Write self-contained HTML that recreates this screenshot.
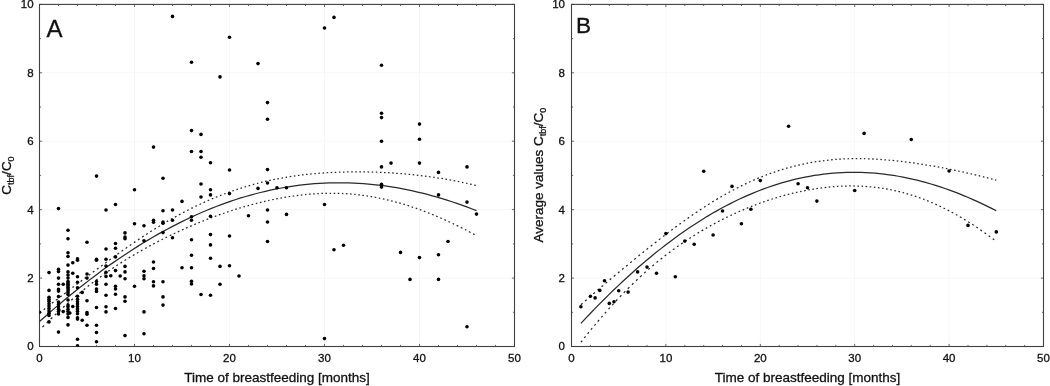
<!DOCTYPE html>
<html><head><meta charset="utf-8"><title>chart</title>
<style>
html,body{margin:0;padding:0;background:#fff;}
body{width:1050px;height:386px;overflow:hidden;}
svg{display:block;will-change:transform;}
text{font-family:"Liberation Sans",sans-serif;fill:#111;stroke:#111;stroke-width:0.3px;}
.tk{font-size:11.5px;}
.tt{font-size:13.5px;}
.sb{font-size:9px;}
</style></head><body>
<svg width="1050" height="386" viewBox="0 0 1050 386">
<rect width="1050" height="386" fill="#fff"/>
<path d="M134.5,4.4 V346.5 M229.5,4.4 V346.5 M324.5,4.4 V346.5 M419.5,4.4 V346.5 M39.5,278.1 H514.5 M39.5,209.7 H514.5 M39.5,141.2 H514.5 M39.5,72.8 H514.5" stroke="#f7f7f7" stroke-width="1" fill="none"/>
<path d="M39.5,346.5 v-2.6 M39.5,4.4 v2.6 M58.5,346.5 v-1.6 M58.5,4.4 v1.6 M77.5,346.5 v-1.6 M77.5,4.4 v1.6 M96.5,346.5 v-1.6 M96.5,4.4 v1.6 M115.5,346.5 v-1.6 M115.5,4.4 v1.6 M134.5,346.5 v-2.6 M134.5,4.4 v2.6 M153.5,346.5 v-1.6 M153.5,4.4 v1.6 M172.5,346.5 v-1.6 M172.5,4.4 v1.6 M191.5,346.5 v-1.6 M191.5,4.4 v1.6 M210.5,346.5 v-1.6 M210.5,4.4 v1.6 M229.5,346.5 v-2.6 M229.5,4.4 v2.6 M248.5,346.5 v-1.6 M248.5,4.4 v1.6 M267.5,346.5 v-1.6 M267.5,4.4 v1.6 M286.5,346.5 v-1.6 M286.5,4.4 v1.6 M305.5,346.5 v-1.6 M305.5,4.4 v1.6 M324.5,346.5 v-2.6 M324.5,4.4 v2.6 M343.5,346.5 v-1.6 M343.5,4.4 v1.6 M362.5,346.5 v-1.6 M362.5,4.4 v1.6 M381.5,346.5 v-1.6 M381.5,4.4 v1.6 M400.5,346.5 v-1.6 M400.5,4.4 v1.6 M419.5,346.5 v-2.6 M419.5,4.4 v2.6 M438.5,346.5 v-1.6 M438.5,4.4 v1.6 M457.5,346.5 v-1.6 M457.5,4.4 v1.6 M476.5,346.5 v-1.6 M476.5,4.4 v1.6 M495.5,346.5 v-1.6 M495.5,4.4 v1.6 M514.5,346.5 v-2.6 M514.5,4.4 v2.6 M39.5,346.5 h2.6 M514.5,346.5 h-2.6 M39.5,312.3 h1.6 M514.5,312.3 h-1.6 M39.5,278.1 h2.6 M514.5,278.1 h-2.6 M39.5,243.9 h1.6 M514.5,243.9 h-1.6 M39.5,209.7 h2.6 M514.5,209.7 h-2.6 M39.5,175.4 h1.6 M514.5,175.4 h-1.6 M39.5,141.2 h2.6 M514.5,141.2 h-2.6 M39.5,107.0 h1.6 M514.5,107.0 h-1.6 M39.5,72.8 h2.6 M514.5,72.8 h-2.6 M39.5,38.6 h1.6 M514.5,38.6 h-1.6 M39.5,4.4 h2.6 M514.5,4.4 h-2.6" stroke="#6a6a6a" stroke-width="1" fill="none"/>
<rect x="39.5" y="4.4" width="475.0" height="342.1" fill="none" stroke="#404040" stroke-width="1.1"/>
<text class="tk" x="39.5" y="362.4" text-anchor="middle">0</text>
<text class="tk" x="134.5" y="362.4" text-anchor="middle">10</text>
<text class="tk" x="229.5" y="362.4" text-anchor="middle">20</text>
<text class="tk" x="324.5" y="362.4" text-anchor="middle">30</text>
<text class="tk" x="419.5" y="362.4" text-anchor="middle">40</text>
<text class="tk" x="514.5" y="362.4" text-anchor="middle">50</text>
<text class="tk" x="33.6" y="350.3" text-anchor="end">0</text>
<text class="tk" x="33.6" y="281.9" text-anchor="end">2</text>
<text class="tk" x="33.6" y="213.5" text-anchor="end">4</text>
<text class="tk" x="33.6" y="145.0" text-anchor="end">6</text>
<text class="tk" x="33.6" y="76.6" text-anchor="end">8</text>
<text class="tk" x="33.6" y="8.2" text-anchor="end">10</text>
<text class="tt" x="277.0" y="382.3" text-anchor="middle">Time of breastfeeding [months]</text>
<text x="46.5" y="37.3" font-size="24">A</text>
<text class="tt" transform="translate(11.1,175.5) rotate(-90)" text-anchor="middle">C<tspan class="sb" dy="3">tbf</tspan><tspan dy="-3">/C</tspan><tspan class="sb" dy="3">0</tspan></text>
<path d="M665.9,4.4 V346.5 M760.3,4.4 V346.5 M854.7,4.4 V346.5 M949.1,4.4 V346.5 M571.5,278.1 H1043.5 M571.5,209.7 H1043.5 M571.5,141.2 H1043.5 M571.5,72.8 H1043.5" stroke="#f7f7f7" stroke-width="1" fill="none"/>
<path d="M571.5,346.5 v-2.6 M571.5,4.4 v2.6 M590.4,346.5 v-1.6 M590.4,4.4 v1.6 M609.3,346.5 v-1.6 M609.3,4.4 v1.6 M628.1,346.5 v-1.6 M628.1,4.4 v1.6 M647.0,346.5 v-1.6 M647.0,4.4 v1.6 M665.9,346.5 v-2.6 M665.9,4.4 v2.6 M684.8,346.5 v-1.6 M684.8,4.4 v1.6 M703.7,346.5 v-1.6 M703.7,4.4 v1.6 M722.5,346.5 v-1.6 M722.5,4.4 v1.6 M741.4,346.5 v-1.6 M741.4,4.4 v1.6 M760.3,346.5 v-2.6 M760.3,4.4 v2.6 M779.2,346.5 v-1.6 M779.2,4.4 v1.6 M798.1,346.5 v-1.6 M798.1,4.4 v1.6 M816.9,346.5 v-1.6 M816.9,4.4 v1.6 M835.8,346.5 v-1.6 M835.8,4.4 v1.6 M854.7,346.5 v-2.6 M854.7,4.4 v2.6 M873.6,346.5 v-1.6 M873.6,4.4 v1.6 M892.5,346.5 v-1.6 M892.5,4.4 v1.6 M911.3,346.5 v-1.6 M911.3,4.4 v1.6 M930.2,346.5 v-1.6 M930.2,4.4 v1.6 M949.1,346.5 v-2.6 M949.1,4.4 v2.6 M968.0,346.5 v-1.6 M968.0,4.4 v1.6 M986.9,346.5 v-1.6 M986.9,4.4 v1.6 M1005.7,346.5 v-1.6 M1005.7,4.4 v1.6 M1024.6,346.5 v-1.6 M1024.6,4.4 v1.6 M1043.5,346.5 v-2.6 M1043.5,4.4 v2.6 M571.5,346.5 h2.6 M1043.5,346.5 h-2.6 M571.5,312.3 h1.6 M1043.5,312.3 h-1.6 M571.5,278.1 h2.6 M1043.5,278.1 h-2.6 M571.5,243.9 h1.6 M1043.5,243.9 h-1.6 M571.5,209.7 h2.6 M1043.5,209.7 h-2.6 M571.5,175.4 h1.6 M1043.5,175.4 h-1.6 M571.5,141.2 h2.6 M1043.5,141.2 h-2.6 M571.5,107.0 h1.6 M1043.5,107.0 h-1.6 M571.5,72.8 h2.6 M1043.5,72.8 h-2.6 M571.5,38.6 h1.6 M1043.5,38.6 h-1.6 M571.5,4.4 h2.6 M1043.5,4.4 h-2.6" stroke="#6a6a6a" stroke-width="1" fill="none"/>
<rect x="571.5" y="4.4" width="472.0" height="342.1" fill="none" stroke="#404040" stroke-width="1.1"/>
<text class="tk" x="571.5" y="362.4" text-anchor="middle">0</text>
<text class="tk" x="665.9" y="362.4" text-anchor="middle">10</text>
<text class="tk" x="760.3" y="362.4" text-anchor="middle">20</text>
<text class="tk" x="854.7" y="362.4" text-anchor="middle">30</text>
<text class="tk" x="949.1" y="362.4" text-anchor="middle">40</text>
<text class="tk" x="1043.5" y="362.4" text-anchor="middle">50</text>
<text class="tk" x="565" y="350.3" text-anchor="end">0</text>
<text class="tk" x="565" y="281.9" text-anchor="end">2</text>
<text class="tk" x="565" y="213.5" text-anchor="end">4</text>
<text class="tk" x="565" y="145.0" text-anchor="end">6</text>
<text class="tk" x="565" y="76.6" text-anchor="end">8</text>
<text class="tk" x="565" y="8.2" text-anchor="end">10</text>
<text class="tt" x="807.5" y="382.3" text-anchor="middle">Time of breastfeeding [months]</text>
<text x="576.1" y="33.4" font-size="22.6">B</text>
<text class="tt" transform="translate(542.5,175.2) rotate(-90)" text-anchor="middle">Average values C<tspan class="sb" dy="3">tbf</tspan><tspan dy="-3">/C</tspan><tspan class="sb" dy="3">0</tspan></text>
<path d="M39.50,313.08L41.10,311.81 M43.73,309.73L45.18,308.58 M47.81,306.51L49.26,305.37 M51.89,303.33L53.49,302.08 M55.97,300.17L57.57,298.93 M60.05,297.03L61.65,295.80 M64.13,293.91L65.73,292.69 M68.21,290.80L69.81,289.59 M72.43,287.60L73.89,286.51 M76.51,284.53L77.97,283.43 M80.59,281.46L82.19,280.26 M84.67,278.40L86.27,277.20 M88.75,275.35L90.35,274.16 M92.83,272.31L94.43,271.12 M96.91,269.28L98.51,268.09 M101.14,266.14L102.59,265.07 M105.22,263.13L106.67,262.06 M109.30,260.14L110.75,259.07 M113.38,257.16L114.98,256.00 M117.46,254.21L119.06,253.06 M121.54,251.29L123.14,250.15 M125.62,248.40L127.22,247.28 M129.84,245.45L131.30,244.44 M133.92,242.64L135.38,241.64 M138.00,239.86L139.46,238.89 M142.08,237.14L143.69,236.08 M146.16,234.46L147.77,233.42 M150.24,231.83L151.85,230.81 M154.32,229.25L155.93,228.26 M158.40,226.73L160.01,225.75 M162.63,224.17L164.09,223.30 M166.71,221.76L168.17,220.91 M170.79,219.40L172.39,218.49 M174.87,217.10L176.47,216.21 M178.95,214.85L180.55,213.99 M183.03,212.67L184.63,211.83 M187.11,210.54L188.71,209.72 M191.34,208.40L192.79,207.68 M195.42,206.40L196.87,205.70 M199.50,204.45L201.10,203.71 M203.58,202.57L205.18,201.85 M207.66,200.75L209.26,200.05 M211.74,198.98L213.34,198.31 M215.82,197.28L217.42,196.63 M220.04,195.58L221.50,195.01 M224.12,194.01L225.58,193.46 M228.20,192.49L229.66,191.96 M232.28,191.03L233.88,190.47 M236.36,189.63L237.96,189.10 M240.44,188.30L242.04,187.79 M244.52,187.02L246.12,186.53 M248.60,185.80L250.20,185.34 M252.83,184.60L254.28,184.20 M256.91,183.50L258.36,183.12 M260.99,182.45L262.59,182.06 M265.07,181.47L266.67,181.10 M269.15,180.54L270.75,180.19 M273.23,179.66L274.83,179.33 M277.31,178.84L278.91,178.53 M281.53,178.05L282.99,177.78 M285.61,177.33L287.07,177.09 M289.69,176.67L291.30,176.42 M293.77,176.05L295.38,175.82 M297.85,175.49L299.46,175.28 M301.93,174.97L303.54,174.78 M306.01,174.49L307.62,174.32 M310.24,174.05L311.70,173.91 M314.32,173.67L315.78,173.54 M318.40,173.32L319.86,173.21 M322.48,173.02L324.08,172.91 M326.56,172.75L328.16,172.66 M330.64,172.53L332.24,172.45 M334.72,172.33L336.32,172.27 M338.94,172.17L340.40,172.12 M343.02,172.05L344.48,172.01 M347.10,171.96L348.56,171.93 M351.18,171.90L352.79,171.89 M355.26,171.87L356.87,171.87 M359.34,171.88L360.95,171.89 M363.42,171.91L365.03,171.93 M367.51,171.97L369.11,172.01 M371.73,172.07L373.19,172.11 M375.81,172.19L377.27,172.24 M379.89,172.35L381.49,172.41 M383.97,172.53L385.57,172.61 M388.05,172.74L389.65,172.83 M392.13,172.99L393.73,173.09 M396.21,173.26L397.81,173.37 M400.44,173.57L401.89,173.69 M404.52,173.91L405.97,174.04 M408.60,174.28L410.20,174.44 M412.68,174.68L414.28,174.85 M416.76,175.12L418.36,175.30 M420.84,175.59L422.44,175.78 M424.92,176.09L426.52,176.30 M429.14,176.65L430.60,176.85 M433.22,177.22L434.68,177.44 M437.30,177.83L438.76,178.06 M441.38,178.48L442.99,178.74 M445.46,179.16L447.07,179.44 M449.54,179.88L451.15,180.18 M453.62,180.64L455.23,180.95 M457.70,181.44L459.31,181.76 M461.93,182.31L463.39,182.62 M466.01,183.18L467.47,183.51 M470.09,184.10L471.69,184.47 M474.17,185.06L475.77,185.45" fill="none" stroke="#2a2a2a" stroke-width="1.25"/>
<path d="M42.50,327.05L44.09,325.48 M46.70,322.93L48.29,321.39 M50.75,319.02L52.34,317.49 M54.80,315.16L56.39,313.67 M59.00,311.24L60.59,309.77 M63.05,307.52L64.64,306.08 M67.10,303.87L68.69,302.45 M71.30,300.16L72.89,298.78 M75.35,296.66L76.94,295.31 M79.40,293.24L80.99,291.92 M83.60,289.79L85.19,288.50 M87.65,286.53L89.24,285.28 M91.70,283.36L93.29,282.14 M95.90,280.17L97.49,278.98 M99.95,277.17L101.54,276.01 M104.00,274.25L105.60,273.12 M108.20,271.31L109.79,270.21 M112.25,268.54L113.84,267.48 M116.30,265.85L117.90,264.81 M120.50,263.13L122.09,262.12 M124.55,260.57L126.15,259.59 M128.61,258.08L130.20,257.11 M132.80,255.55L134.39,254.61 M136.85,253.17L138.45,252.25 M140.91,250.84L142.50,249.94 M145.10,248.48L146.69,247.61 M149.15,246.26L150.75,245.40 M153.21,244.08L154.80,243.24 M157.40,241.88L159.00,241.06 M161.46,239.80L163.05,238.99 M165.51,237.76L167.10,236.97 M169.70,235.70L171.30,234.93 M173.76,233.75L175.35,233.00 M177.81,231.85L179.40,231.11 M182.01,229.93L183.60,229.21 M186.06,228.11L187.65,227.41 M190.11,226.34L191.70,225.65 M194.31,224.55L195.90,223.88 M198.36,222.86L199.95,222.21 M202.41,221.22L204.00,220.58 M206.61,219.56L208.20,218.94 M210.66,218.00L212.25,217.40 M214.71,216.49L216.30,215.90 M218.91,214.96L220.50,214.39 M222.96,213.53L224.55,212.98 M227.01,212.15L228.60,211.62 M231.21,210.76L232.66,210.29 M235.26,209.46L236.85,208.97 M239.31,208.21L240.90,207.73 M243.51,206.96L244.96,206.54 M247.56,205.80L249.15,205.36 M251.61,204.69L253.20,204.26 M255.81,203.58L257.26,203.21 M259.86,202.56L261.45,202.17 M263.91,201.59L265.51,201.22 M268.11,200.63L269.56,200.31 M272.16,199.76L273.75,199.43 M276.21,198.93L277.81,198.62 M280.41,198.14L281.86,197.87 M284.46,197.42L286.06,197.15 M288.52,196.75L290.11,196.50 M292.71,196.12L294.16,195.91 M296.76,195.56L298.36,195.36 M300.82,195.07L302.41,194.89 M305.01,194.61L306.46,194.47 M309.06,194.23L310.66,194.10 M313.12,193.91L314.71,193.81 M317.31,193.65L318.76,193.57 M321.37,193.46L322.96,193.40 M325.42,193.33L327.01,193.30 M329.61,193.27L331.06,193.26 M333.67,193.27L335.26,193.29 M337.72,193.34L339.31,193.39 M341.92,193.49L343.36,193.56 M345.97,193.70L347.56,193.80 M350.02,193.98L351.61,194.11 M354.22,194.35L355.66,194.49 M358.27,194.77L359.86,194.96 M362.32,195.27L363.91,195.48 M366.52,195.85L367.96,196.07 M370.57,196.49L372.16,196.76 M374.62,197.20L376.21,197.49 M378.82,198.00L380.26,198.30 M382.87,198.85L384.46,199.20 M386.92,199.77L388.51,200.15 M391.12,200.79L392.57,201.16 M395.17,201.84L396.76,202.28 M399.22,202.96L400.81,203.42 M403.42,204.19L404.87,204.63 M407.47,205.44L409.06,205.95 M411.52,206.76L413.11,207.29 M415.72,208.19L417.17,208.70 M419.77,209.63L421.36,210.21 M423.82,211.13L425.42,211.74 M428.02,212.75L429.47,213.32 M432.07,214.37L433.66,215.02 M436.12,216.05L437.72,216.73 M440.32,217.85L441.77,218.48 M444.37,219.64L445.97,220.36 M448.43,221.48L450.02,222.22 M452.62,223.45L454.07,224.14 M456.67,225.40L458.27,226.18 M460.73,227.40L462.32,228.20 M464.92,229.53L466.37,230.27 M468.97,231.63L470.57,232.47 M473.03,233.77L474.62,234.63" fill="none" stroke="#2a2a2a" stroke-width="1.25"/>
<path d="M39.5,321.55 L44.4,317.18 L49.3,312.86 L54.2,308.61 L59.1,304.41 L64.1,300.29 L69.0,296.22 L73.9,292.23 L78.8,288.29 L83.7,284.43 L88.6,280.62 L93.5,276.89 L98.4,273.22 L103.3,269.62 L108.2,266.09 L113.2,262.63 L118.1,259.24 L123.0,255.92 L127.9,252.67 L132.8,249.48 L137.7,246.37 L142.6,243.33 L147.5,240.37 L152.4,237.47 L157.3,234.65 L162.3,231.89 L167.2,229.22 L172.1,226.61 L177.0,224.08 L181.9,221.62 L186.8,219.24 L191.7,216.93 L196.6,214.70 L201.5,212.54 L206.4,210.45 L211.4,208.44 L216.3,206.51 L221.2,204.65 L226.1,202.86 L231.0,201.16 L235.9,199.52 L240.8,197.97 L245.7,196.49 L250.6,195.08 L255.5,193.75 L260.5,192.50 L265.4,191.32 L270.3,190.22 L275.2,189.20 L280.1,188.25 L285.0,187.38 L289.9,186.58 L294.8,185.86 L299.7,185.22 L304.6,184.65 L309.6,184.16 L314.5,183.74 L319.4,183.40 L324.3,183.13 L329.2,182.94 L334.1,182.82 L339.0,182.78 L343.9,182.81 L348.8,182.91 L353.7,183.09 L358.7,183.35 L363.6,183.67 L368.5,184.07 L373.4,184.55 L378.3,185.09 L383.2,185.71 L388.1,186.40 L393.0,187.16 L397.9,187.99 L402.8,188.90 L407.8,189.87 L412.7,190.91 L417.6,192.03 L422.5,193.21 L427.4,194.46 L432.3,195.78 L437.2,197.17 L442.1,198.62 L447.0,200.14 L451.9,201.73 L456.9,203.38 L461.8,205.10 L466.7,206.88 L471.6,208.73 L476.5,210.64" fill="none" stroke="#2a2a2a" stroke-width="1.25"/>
<path d="M580.94,304.71L582.60,303.24 M585.09,301.04L586.62,299.71 M589.25,297.40L590.77,296.07 M593.27,293.90L594.93,292.46 M597.42,290.31L598.94,289.00 M601.58,286.74L603.10,285.44 M605.59,283.32L607.12,282.02 M609.75,279.79L611.27,278.51 M613.76,276.41L615.43,275.02 M617.92,272.93L619.44,271.66 M622.07,269.48L623.60,268.21 M626.09,266.15L627.61,264.90 M630.25,262.74L631.77,261.49 M634.26,259.46L635.92,258.11 M638.42,256.09L639.94,254.85 M642.57,252.73L644.10,251.51 M646.59,249.52L648.11,248.30 M650.74,246.22L652.27,245.01 M654.76,243.05L656.42,241.75 M658.92,239.80L660.44,238.62 M663.07,236.59L664.59,235.42 M667.09,233.51L668.61,232.35 M671.24,230.37L672.77,229.23 M675.26,227.37L676.92,226.14 M679.41,224.31L680.94,223.20 M683.57,221.30L685.09,220.21 M687.58,218.44L689.11,217.37 M691.74,215.53L693.26,214.48 M695.76,212.78L697.42,211.66 M699.91,209.99L701.43,208.98 M704.07,207.26L705.59,206.28 M708.08,204.69L709.61,203.73 M712.24,202.09L713.76,201.15 M716.25,199.64L717.92,198.65 M720.41,197.18L721.93,196.30 M724.56,194.79L726.09,193.93 M728.58,192.55L730.10,191.72 M732.74,190.31L734.26,189.50 M736.75,188.21L738.41,187.36 M740.91,186.11L742.43,185.36 M745.06,184.09L746.59,183.37 M749.08,182.22L750.60,181.52 M753.23,180.35L754.76,179.69 M757.25,178.62L758.91,177.93 M761.40,176.92L762.93,176.31 M765.56,175.28L767.08,174.71 M769.58,173.78L771.24,173.18 M773.73,172.31L775.25,171.79 M777.75,170.96L779.41,170.42 M781.90,169.64L783.43,169.18 M786.06,168.40L787.58,167.96 M790.07,167.27L791.74,166.83 M794.23,166.19L795.75,165.81 M798.25,165.21L799.91,164.83 M802.40,164.28L803.92,163.95 M806.56,163.42L808.08,163.12 M810.57,162.66L812.23,162.36 M814.73,161.95L816.25,161.70 M818.74,161.33L820.41,161.09 M822.90,160.76L824.42,160.57 M827.05,160.26L828.58,160.10 M831.07,159.85L832.73,159.69 M835.23,159.49L836.75,159.37 M839.24,159.20L840.90,159.10 M843.40,158.97L844.92,158.90 M847.55,158.80L849.08,158.75 M851.57,158.70L853.23,158.67 M855.72,158.65L857.25,158.64 M859.88,158.66L861.40,158.67 M863.89,158.72L865.42,158.75 M868.05,158.83L869.57,158.89 M872.07,158.99L873.73,159.07 M876.22,159.21L877.74,159.30 M880.38,159.47L881.90,159.58 M884.39,159.77L885.92,159.89 M888.55,160.12L890.07,160.25 M892.56,160.49L894.23,160.66 M896.72,160.92L898.24,161.09 M900.87,161.39L902.40,161.57 M904.89,161.87L906.41,162.06 M909.05,162.40L910.57,162.61 M913.06,162.95L914.72,163.19 M917.22,163.55L918.74,163.78 M921.37,164.18L922.90,164.42 M925.39,164.82L926.91,165.07 M929.54,165.50L931.07,165.76 M933.56,166.20L935.22,166.49 M937.71,166.94L939.24,167.22 M941.87,167.71L943.39,168.00 M945.89,168.48L947.41,168.78 M950.04,169.30L951.56,169.61 M954.06,170.12L955.72,170.47 M958.21,171.00L959.74,171.32 M962.37,171.90L963.89,172.23 M966.38,172.79L967.91,173.13 M970.54,173.74L972.06,174.09 M974.56,174.68L976.22,175.07 M978.71,175.68L980.23,176.05 M982.87,176.70L984.39,177.08 M986.88,177.71L988.41,178.10 M991.04,178.78L992.56,179.17 M995.05,179.83L996.30,180.16" fill="none" stroke="#2a2a2a" stroke-width="1.25"/>
<path d="M580.94,342.10L582.19,340.52 M584.26,337.91L585.51,336.36 M587.59,333.79L588.83,332.25 M590.91,329.72L592.16,328.21 M594.37,325.54L595.62,324.05 M597.70,321.59L599.08,319.97 M601.30,317.39L602.55,315.95 M604.90,313.26L606.15,311.84 M608.50,309.20L609.89,307.66 M612.24,305.06L613.63,303.55 M615.98,301.01L617.37,299.53 M619.86,296.89L621.38,295.30 M623.74,292.87L625.26,291.31 M627.75,288.80L629.41,287.14 M631.91,284.69L633.43,283.21 M636.06,280.69L637.59,279.25 M640.08,276.92L641.74,275.40 M644.23,273.13L645.76,271.77 M648.25,269.57L649.91,268.13 M652.41,265.99L653.93,264.70 M656.56,262.51L658.08,261.27 M660.58,259.25L662.24,257.93 M664.73,255.97L666.26,254.80 M668.89,252.79L670.41,251.65 M672.90,249.81L674.43,248.70 M677.06,246.82L678.58,245.74 M681.08,244.01L682.74,242.87 M685.23,241.19L686.75,240.17 M689.39,238.45L690.91,237.47 M693.40,235.89L694.93,234.93 M697.56,233.31L699.08,232.38 M701.57,230.89L703.24,229.91 M705.73,228.47L707.25,227.60 M709.88,226.12L711.41,225.27 M713.90,223.91L715.42,223.09 M718.05,221.70L719.58,220.91 M722.07,219.63L723.73,218.80 M726.23,217.56L727.75,216.82 M730.38,215.55L731.90,214.83 M734.40,213.68L735.92,212.98 M738.55,211.80L740.08,211.13 M742.57,210.05L744.23,209.35 M746.72,208.31L748.25,207.68 M750.88,206.62L752.40,206.02 M754.90,205.06L756.42,204.48 M759.05,203.51L760.57,202.95 M763.07,202.06L764.73,201.48 M767.22,200.63L768.75,200.13 M771.38,199.27L772.90,198.78 M775.39,198.01L776.92,197.55 M779.55,196.77L781.07,196.33 M783.56,195.63L785.23,195.18 M787.72,194.52L789.24,194.13 M791.87,193.47L793.40,193.11 M795.89,192.52L797.41,192.18 M800.05,191.61L801.57,191.29 M804.06,190.78L805.72,190.46 M808.22,189.99L809.74,189.72 M812.37,189.27L813.90,189.03 M816.39,188.64L817.91,188.42 M820.54,188.06L822.07,187.86 M824.56,187.56L826.22,187.37 M828.72,187.11L830.24,186.97 M832.87,186.74L834.39,186.62 M836.89,186.45L838.41,186.35 M841.04,186.22L842.57,186.15 M845.06,186.07L846.72,186.03 M849.21,185.99L850.74,185.98 M853.37,185.99L854.89,186.01 M857.39,186.06L859.05,186.12 M861.54,186.22L863.06,186.30 M865.56,186.45L867.22,186.57 M869.71,186.78L871.23,186.92 M873.87,187.19L875.39,187.36 M877.88,187.67L879.54,187.89 M882.04,188.25L883.56,188.48 M886.05,188.90L887.72,189.19 M890.21,189.66L891.73,189.96 M894.36,190.52L895.89,190.85 M898.38,191.43L900.04,191.84 M902.54,192.48L904.06,192.88 M906.55,193.58L908.21,194.06 M910.71,194.81L912.23,195.28 M914.86,196.14L916.39,196.65 M918.88,197.52L920.54,198.11 M923.03,199.04L924.56,199.62 M927.05,200.60L928.71,201.27 M931.21,202.31L932.73,202.97 M935.36,204.12L936.88,204.81 M939.38,205.97L941.04,206.75 M943.53,207.97L945.06,208.72 M947.69,210.06L949.21,210.86 M951.70,212.18L953.23,213.01 M955.86,214.46L957.38,215.32 M959.87,216.76L961.54,217.73 M964.03,219.22L965.55,220.15 M968.18,221.78L969.71,222.74 M972.20,224.34L973.72,225.33 M976.36,227.08L977.88,228.10 M980.37,229.81L982.03,230.96 M984.53,232.72L986.05,233.81 M988.68,235.72L990.21,236.84 M992.70,238.70L994.22,239.85" fill="none" stroke="#2a2a2a" stroke-width="1.25"/>
<path d="M580.9,323.41 L585.6,318.42 L590.3,313.50 L594.9,308.66 L599.6,303.89 L604.3,299.20 L608.9,294.59 L613.6,290.06 L618.3,285.60 L622.9,281.22 L627.6,276.92 L632.3,272.70 L636.9,268.57 L641.6,264.51 L646.3,260.54 L650.9,256.65 L655.6,252.84 L660.3,249.12 L664.9,245.48 L669.6,241.92 L674.3,238.45 L678.9,235.07 L683.6,231.77 L688.3,228.56 L692.9,225.44 L697.6,222.40 L702.3,219.45 L706.9,216.59 L711.6,213.82 L716.3,211.13 L720.9,208.53 L725.6,206.03 L730.3,203.61 L734.9,201.28 L739.6,199.04 L744.3,196.90 L749.0,194.84 L753.6,192.87 L758.3,190.99 L763.0,189.20 L767.6,187.50 L772.3,185.90 L777.0,184.38 L781.6,182.95 L786.3,181.62 L791.0,180.37 L795.6,179.21 L800.3,178.15 L805.0,177.17 L809.6,176.29 L814.3,175.49 L819.0,174.79 L823.6,174.17 L828.3,173.64 L833.0,173.20 L837.6,172.85 L842.3,172.59 L847.0,172.42 L851.6,172.34 L856.3,172.34 L861.0,172.43 L865.6,172.61 L870.3,172.87 L875.0,173.22 L879.6,173.66 L884.3,174.18 L889.0,174.79 L893.6,175.48 L898.3,176.25 L903.0,177.11 L907.6,178.05 L912.3,179.08 L917.0,180.18 L921.6,181.37 L926.3,182.63 L931.0,183.98 L935.6,185.40 L940.3,186.91 L945.0,188.49 L949.6,190.15 L954.3,191.88 L959.0,193.69 L963.6,195.58 L968.3,197.54 L973.0,199.57 L977.6,201.67 L982.3,203.85 L987.0,206.10 L991.6,208.41 L996.3,210.80" fill="none" stroke="#2a2a2a" stroke-width="1.25"/>
<clipPath id="ca"><rect x="39.5" y="4.4" width="475.0" height="342.1"/></clipPath>
<g fill="#000" clip-path="url(#ca)">
<circle cx="39.5" cy="312.3" r="1.8"/>
<circle cx="49.0" cy="321.9" r="1.8"/>
<circle cx="49.0" cy="315.4" r="1.8"/>
<circle cx="49.0" cy="313.3" r="1.8"/>
<circle cx="49.0" cy="310.9" r="1.8"/>
<circle cx="49.0" cy="308.5" r="1.8"/>
<circle cx="49.0" cy="306.1" r="1.8"/>
<circle cx="49.0" cy="303.7" r="1.8"/>
<circle cx="49.0" cy="301.3" r="1.8"/>
<circle cx="49.0" cy="299.3" r="1.8"/>
<circle cx="49.0" cy="297.2" r="1.8"/>
<circle cx="49.0" cy="290.4" r="1.8"/>
<circle cx="49.0" cy="272.6" r="1.8"/>
<circle cx="58.5" cy="332.1" r="1.8"/>
<circle cx="58.5" cy="314.0" r="1.8"/>
<circle cx="58.5" cy="311.6" r="1.8"/>
<circle cx="58.5" cy="309.2" r="1.8"/>
<circle cx="58.5" cy="306.8" r="1.8"/>
<circle cx="58.5" cy="304.4" r="1.8"/>
<circle cx="58.5" cy="302.0" r="1.8"/>
<circle cx="58.5" cy="296.6" r="1.8"/>
<circle cx="58.5" cy="291.1" r="1.8"/>
<circle cx="58.5" cy="289.4" r="1.8"/>
<circle cx="58.5" cy="284.2" r="1.8"/>
<circle cx="58.5" cy="278.1" r="1.8"/>
<circle cx="58.5" cy="271.6" r="1.8"/>
<circle cx="58.5" cy="269.2" r="1.8"/>
<circle cx="58.5" cy="208.6" r="1.8"/>
<circle cx="63.2" cy="311.6" r="1.8"/>
<circle cx="63.2" cy="284.2" r="1.8"/>
<circle cx="68.0" cy="324.9" r="1.8"/>
<circle cx="68.0" cy="317.4" r="1.8"/>
<circle cx="68.0" cy="314.0" r="1.8"/>
<circle cx="68.0" cy="311.6" r="1.8"/>
<circle cx="68.0" cy="309.2" r="1.8"/>
<circle cx="68.0" cy="306.8" r="1.8"/>
<circle cx="68.0" cy="305.1" r="1.8"/>
<circle cx="68.0" cy="300.0" r="1.8"/>
<circle cx="68.0" cy="294.5" r="1.8"/>
<circle cx="68.0" cy="292.8" r="1.8"/>
<circle cx="68.0" cy="291.1" r="1.8"/>
<circle cx="68.0" cy="288.7" r="1.8"/>
<circle cx="68.0" cy="287.3" r="1.8"/>
<circle cx="68.0" cy="285.6" r="1.8"/>
<circle cx="68.0" cy="284.2" r="1.8"/>
<circle cx="68.0" cy="282.9" r="1.8"/>
<circle cx="68.0" cy="281.5" r="1.8"/>
<circle cx="68.0" cy="278.1" r="1.8"/>
<circle cx="68.0" cy="275.0" r="1.8"/>
<circle cx="68.0" cy="271.9" r="1.8"/>
<circle cx="68.0" cy="265.1" r="1.8"/>
<circle cx="68.0" cy="256.5" r="1.8"/>
<circle cx="68.0" cy="252.8" r="1.8"/>
<circle cx="68.0" cy="238.7" r="1.8"/>
<circle cx="68.0" cy="230.2" r="1.8"/>
<circle cx="69.9" cy="313.0" r="1.8"/>
<circle cx="72.8" cy="306.5" r="1.8"/>
<circle cx="72.8" cy="273.3" r="1.8"/>
<circle cx="72.8" cy="262.7" r="1.8"/>
<circle cx="77.5" cy="345.8" r="1.8"/>
<circle cx="77.5" cy="339.3" r="1.8"/>
<circle cx="77.5" cy="319.1" r="1.8"/>
<circle cx="77.5" cy="317.8" r="1.8"/>
<circle cx="77.5" cy="313.7" r="1.8"/>
<circle cx="77.5" cy="311.3" r="1.8"/>
<circle cx="77.5" cy="308.9" r="1.8"/>
<circle cx="77.5" cy="306.5" r="1.8"/>
<circle cx="77.5" cy="304.1" r="1.8"/>
<circle cx="77.5" cy="301.7" r="1.8"/>
<circle cx="77.5" cy="299.3" r="1.8"/>
<circle cx="77.5" cy="296.2" r="1.8"/>
<circle cx="77.5" cy="287.7" r="1.8"/>
<circle cx="77.5" cy="282.2" r="1.8"/>
<circle cx="77.5" cy="276.7" r="1.8"/>
<circle cx="77.5" cy="260.3" r="1.8"/>
<circle cx="77.5" cy="258.9" r="1.8"/>
<circle cx="82.2" cy="320.2" r="1.8"/>
<circle cx="82.2" cy="292.4" r="1.8"/>
<circle cx="87.0" cy="325.3" r="1.8"/>
<circle cx="87.0" cy="314.3" r="1.8"/>
<circle cx="87.0" cy="312.6" r="1.8"/>
<circle cx="87.0" cy="300.7" r="1.8"/>
<circle cx="87.0" cy="278.1" r="1.8"/>
<circle cx="87.0" cy="274.0" r="1.8"/>
<circle cx="87.0" cy="242.2" r="1.8"/>
<circle cx="96.5" cy="341.7" r="1.8"/>
<circle cx="96.5" cy="332.5" r="1.8"/>
<circle cx="96.5" cy="325.3" r="1.8"/>
<circle cx="96.5" cy="307.5" r="1.8"/>
<circle cx="96.5" cy="291.4" r="1.8"/>
<circle cx="96.5" cy="289.0" r="1.8"/>
<circle cx="96.5" cy="284.2" r="1.8"/>
<circle cx="96.5" cy="281.5" r="1.8"/>
<circle cx="96.5" cy="260.3" r="1.8"/>
<circle cx="96.5" cy="259.3" r="1.8"/>
<circle cx="96.5" cy="176.1" r="1.8"/>
<circle cx="106.0" cy="311.9" r="1.8"/>
<circle cx="106.0" cy="306.8" r="1.8"/>
<circle cx="106.0" cy="295.2" r="1.8"/>
<circle cx="106.0" cy="284.2" r="1.8"/>
<circle cx="106.0" cy="276.4" r="1.8"/>
<circle cx="106.0" cy="272.3" r="1.8"/>
<circle cx="106.0" cy="266.1" r="1.8"/>
<circle cx="106.0" cy="259.3" r="1.8"/>
<circle cx="106.0" cy="249.0" r="1.8"/>
<circle cx="106.0" cy="210.0" r="1.8"/>
<circle cx="110.8" cy="275.7" r="1.8"/>
<circle cx="115.5" cy="308.5" r="1.8"/>
<circle cx="115.5" cy="294.2" r="1.8"/>
<circle cx="115.5" cy="289.0" r="1.8"/>
<circle cx="115.5" cy="286.3" r="1.8"/>
<circle cx="115.5" cy="270.6" r="1.8"/>
<circle cx="115.5" cy="256.9" r="1.8"/>
<circle cx="115.5" cy="248.3" r="1.8"/>
<circle cx="115.5" cy="243.5" r="1.8"/>
<circle cx="115.5" cy="204.5" r="1.8"/>
<circle cx="120.2" cy="276.0" r="1.8"/>
<circle cx="125.0" cy="335.6" r="1.8"/>
<circle cx="125.0" cy="301.3" r="1.8"/>
<circle cx="125.0" cy="296.9" r="1.8"/>
<circle cx="125.0" cy="278.8" r="1.8"/>
<circle cx="125.0" cy="271.9" r="1.8"/>
<circle cx="125.0" cy="266.4" r="1.8"/>
<circle cx="125.0" cy="238.7" r="1.8"/>
<circle cx="125.0" cy="237.0" r="1.8"/>
<circle cx="125.0" cy="232.9" r="1.8"/>
<circle cx="134.5" cy="286.3" r="1.8"/>
<circle cx="134.5" cy="223.7" r="1.8"/>
<circle cx="134.5" cy="189.8" r="1.8"/>
<circle cx="144.0" cy="333.8" r="1.8"/>
<circle cx="144.0" cy="311.9" r="1.8"/>
<circle cx="144.0" cy="278.8" r="1.8"/>
<circle cx="144.0" cy="275.7" r="1.8"/>
<circle cx="144.0" cy="271.2" r="1.8"/>
<circle cx="144.0" cy="240.8" r="1.8"/>
<circle cx="144.0" cy="225.7" r="1.8"/>
<circle cx="153.5" cy="285.9" r="1.8"/>
<circle cx="153.5" cy="281.8" r="1.8"/>
<circle cx="153.5" cy="268.5" r="1.8"/>
<circle cx="153.5" cy="262.0" r="1.8"/>
<circle cx="153.5" cy="222.3" r="1.8"/>
<circle cx="153.5" cy="220.3" r="1.8"/>
<circle cx="153.5" cy="147.1" r="1.8"/>
<circle cx="163.0" cy="305.1" r="1.8"/>
<circle cx="163.0" cy="296.9" r="1.8"/>
<circle cx="163.0" cy="281.8" r="1.8"/>
<circle cx="163.0" cy="232.6" r="1.8"/>
<circle cx="163.0" cy="223.3" r="1.8"/>
<circle cx="163.0" cy="222.0" r="1.8"/>
<circle cx="163.0" cy="210.7" r="1.8"/>
<circle cx="163.0" cy="178.2" r="1.8"/>
<circle cx="172.5" cy="237.7" r="1.8"/>
<circle cx="172.5" cy="220.3" r="1.8"/>
<circle cx="172.5" cy="210.0" r="1.8"/>
<circle cx="172.5" cy="16.4" r="1.8"/>
<circle cx="182.0" cy="267.8" r="1.8"/>
<circle cx="182.0" cy="201.4" r="1.8"/>
<circle cx="191.5" cy="283.9" r="1.8"/>
<circle cx="191.5" cy="281.2" r="1.8"/>
<circle cx="191.5" cy="267.8" r="1.8"/>
<circle cx="191.5" cy="255.2" r="1.8"/>
<circle cx="191.5" cy="239.8" r="1.8"/>
<circle cx="191.5" cy="220.3" r="1.8"/>
<circle cx="191.5" cy="216.8" r="1.8"/>
<circle cx="191.5" cy="151.5" r="1.8"/>
<circle cx="191.5" cy="130.6" r="1.8"/>
<circle cx="191.5" cy="62.2" r="1.8"/>
<circle cx="201.0" cy="294.5" r="1.8"/>
<circle cx="201.0" cy="197.0" r="1.8"/>
<circle cx="201.0" cy="184.0" r="1.8"/>
<circle cx="201.0" cy="157.3" r="1.8"/>
<circle cx="201.0" cy="151.5" r="1.8"/>
<circle cx="201.0" cy="134.4" r="1.8"/>
<circle cx="210.5" cy="295.2" r="1.8"/>
<circle cx="210.5" cy="258.2" r="1.8"/>
<circle cx="210.5" cy="244.9" r="1.8"/>
<circle cx="210.5" cy="234.6" r="1.8"/>
<circle cx="210.5" cy="216.2" r="1.8"/>
<circle cx="210.5" cy="194.9" r="1.8"/>
<circle cx="210.5" cy="189.8" r="1.8"/>
<circle cx="210.5" cy="162.8" r="1.8"/>
<circle cx="220.0" cy="284.2" r="1.8"/>
<circle cx="220.0" cy="266.4" r="1.8"/>
<circle cx="220.0" cy="76.9" r="1.8"/>
<circle cx="229.5" cy="265.8" r="1.8"/>
<circle cx="229.5" cy="236.0" r="1.8"/>
<circle cx="229.5" cy="193.6" r="1.8"/>
<circle cx="229.5" cy="170.0" r="1.8"/>
<circle cx="229.5" cy="37.2" r="1.8"/>
<circle cx="239.0" cy="276.0" r="1.8"/>
<circle cx="248.5" cy="215.8" r="1.8"/>
<circle cx="258.0" cy="188.4" r="1.8"/>
<circle cx="258.0" cy="63.6" r="1.8"/>
<circle cx="267.5" cy="241.5" r="1.8"/>
<circle cx="267.5" cy="222.0" r="1.8"/>
<circle cx="267.5" cy="210.0" r="1.8"/>
<circle cx="267.5" cy="183.0" r="1.8"/>
<circle cx="267.5" cy="169.6" r="1.8"/>
<circle cx="267.5" cy="119.3" r="1.8"/>
<circle cx="267.5" cy="102.6" r="1.8"/>
<circle cx="277.0" cy="187.8" r="1.8"/>
<circle cx="286.5" cy="214.4" r="1.8"/>
<circle cx="286.5" cy="187.8" r="1.8"/>
<circle cx="324.5" cy="338.6" r="1.8"/>
<circle cx="324.5" cy="204.5" r="1.8"/>
<circle cx="324.5" cy="28.0" r="1.8"/>
<circle cx="334.0" cy="249.7" r="1.8"/>
<circle cx="334.0" cy="17.4" r="1.8"/>
<circle cx="343.5" cy="245.2" r="1.8"/>
<circle cx="381.5" cy="187.1" r="1.8"/>
<circle cx="381.5" cy="184.3" r="1.8"/>
<circle cx="381.5" cy="166.9" r="1.8"/>
<circle cx="381.5" cy="141.2" r="1.8"/>
<circle cx="381.5" cy="117.6" r="1.8"/>
<circle cx="381.5" cy="113.2" r="1.8"/>
<circle cx="381.5" cy="65.3" r="1.8"/>
<circle cx="391.0" cy="163.1" r="1.8"/>
<circle cx="400.5" cy="252.4" r="1.8"/>
<circle cx="410.0" cy="279.4" r="1.8"/>
<circle cx="419.5" cy="257.6" r="1.8"/>
<circle cx="419.5" cy="163.1" r="1.8"/>
<circle cx="419.5" cy="139.2" r="1.8"/>
<circle cx="419.5" cy="124.1" r="1.8"/>
<circle cx="438.5" cy="279.4" r="1.8"/>
<circle cx="438.5" cy="254.8" r="1.8"/>
<circle cx="438.5" cy="194.9" r="1.8"/>
<circle cx="438.5" cy="172.4" r="1.8"/>
<circle cx="448.0" cy="241.5" r="1.8"/>
<circle cx="467.0" cy="326.7" r="1.8"/>
<circle cx="467.0" cy="202.1" r="1.8"/>
<circle cx="467.0" cy="166.9" r="1.8"/>
<circle cx="476.5" cy="214.1" r="1.8"/>
</g><g fill="#000">
<circle cx="580.9" cy="306.8" r="1.8"/>
<circle cx="590.4" cy="296.2" r="1.8"/>
<circle cx="595.1" cy="297.9" r="1.8"/>
<circle cx="599.8" cy="290.4" r="1.8"/>
<circle cx="604.5" cy="280.8" r="1.8"/>
<circle cx="609.3" cy="303.4" r="1.8"/>
<circle cx="614.0" cy="301.7" r="1.8"/>
<circle cx="618.7" cy="290.7" r="1.8"/>
<circle cx="628.1" cy="292.1" r="1.8"/>
<circle cx="637.6" cy="271.9" r="1.8"/>
<circle cx="647.0" cy="267.1" r="1.8"/>
<circle cx="656.5" cy="273.3" r="1.8"/>
<circle cx="665.9" cy="233.6" r="1.8"/>
<circle cx="675.3" cy="276.7" r="1.8"/>
<circle cx="684.8" cy="241.1" r="1.8"/>
<circle cx="694.2" cy="244.2" r="1.8"/>
<circle cx="703.7" cy="171.3" r="1.8"/>
<circle cx="713.1" cy="235.0" r="1.8"/>
<circle cx="722.5" cy="211.0" r="1.8"/>
<circle cx="732.0" cy="186.4" r="1.8"/>
<circle cx="741.4" cy="223.7" r="1.8"/>
<circle cx="750.9" cy="209.3" r="1.8"/>
<circle cx="760.3" cy="180.6" r="1.8"/>
<circle cx="788.6" cy="126.2" r="1.8"/>
<circle cx="798.1" cy="183.7" r="1.8"/>
<circle cx="807.5" cy="187.8" r="1.8"/>
<circle cx="816.9" cy="201.1" r="1.8"/>
<circle cx="854.7" cy="190.5" r="1.8"/>
<circle cx="864.1" cy="133.4" r="1.8"/>
<circle cx="911.3" cy="139.5" r="1.8"/>
<circle cx="949.1" cy="171.0" r="1.8"/>
<circle cx="968.0" cy="225.4" r="1.8"/>
<circle cx="996.3" cy="231.9" r="1.8"/>
</g>
</svg></body></html>
